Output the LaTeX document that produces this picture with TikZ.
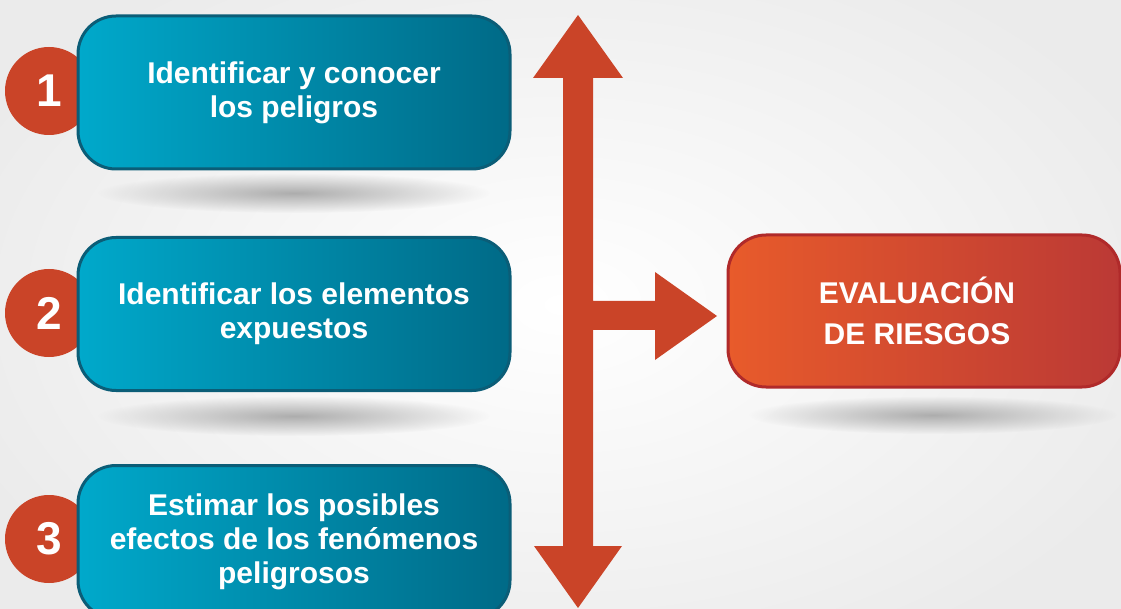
\documentclass[tikz,border=0pt]{standalone}
\usepackage{fontspec}
\setmainfont{Liberation Sans}
\usetikzlibrary{fadings}

\definecolor{tealL}{HTML}{00A9CB}
\definecolor{tealR}{HTML}{006A87}
\definecolor{tealB}{HTML}{0B5D77}
\definecolor{arrowred}{HTML}{CA4428}
\definecolor{evalL}{HTML}{E85B2B}
\definecolor{evalR}{HTML}{BB3935}
\definecolor{evalB}{HTML}{B02A2A}
\tikzfading[name=softspot, inner color=transparent!0, outer color=transparent!100]

\begin{document}
\begin{tikzpicture}[x=1pt,y=-1pt,
    every node/.style={font=\bfseries\fontsize{30}{34}\selectfont, text=white, align=center},
    stepbox/.style={draw=tealB, line width=3pt, rounded corners=38pt, left color=tealL, right color=tealR, minimum width=432pt, minimum height=153pt},
    evalbox/.style={draw=evalB, line width=3pt, rounded corners=38pt, left color=evalL, right color=evalR, minimum width=392pt, minimum height=152pt, font=\bfseries\fontsize{30}{41}\selectfont},
    num/.style={circle, fill=arrowred, minimum size=88pt, inner sep=0pt, font=\bfseries\fontsize{46}{46}\selectfont},
    floorshadow/.style={fill=black!32, path fading=softspot}]
      \useasboundingbox (0,0) rectangle (1121,609);
      \clip (0,0) rectangle (1121,609);
      \shade[inner color=white, outer color=black!8] (-100,-100) rectangle (1221,709);
      \fill[floorshadow] (294,193) ellipse [x radius=196, y radius=20];
      \fill[floorshadow] (294,416) ellipse [x radius=196, y radius=20];
      \fill[floorshadow] (933,415) ellipse [x radius=184, y radius=19];
      \node[num] (N1) at (49,91) {1};
      \node[num] (N2) at (49,313) {2};
      \node[num] (N3) at (49,539) {3};
      \node[stepbox] (A) at (294,92.5) {Identificar y conocer\\los peligros};
      \node[stepbox] (B) at (294,314) {Identificar los elementos\\expuestos};
      \node[stepbox] (C) at (294,542) {Estimar los posibles\\efectos de los fenómenos\\peligrosos};
      \node[evalbox] (E) at (924,311) {EVALUACIÓN\hspace*{14pt}\\DE RIESGOS\hspace*{14pt}};
      \coordinate (top) at (578,15);
      \coordinate (bottom) at (578,608);
      \fill[arrowred] (top) -- (623,78) -- (593,78) -- (593,301) -- (655,301) -- (655,272)
        -- (717,316) -- (655,360) -- (655,330) -- (593,330) -- (593,546) -- (622,546)
        -- (bottom) -- (534,546) -- (563,546) -- (563,78) -- (533,78) -- cycle;
\end{tikzpicture}
\end{document}
